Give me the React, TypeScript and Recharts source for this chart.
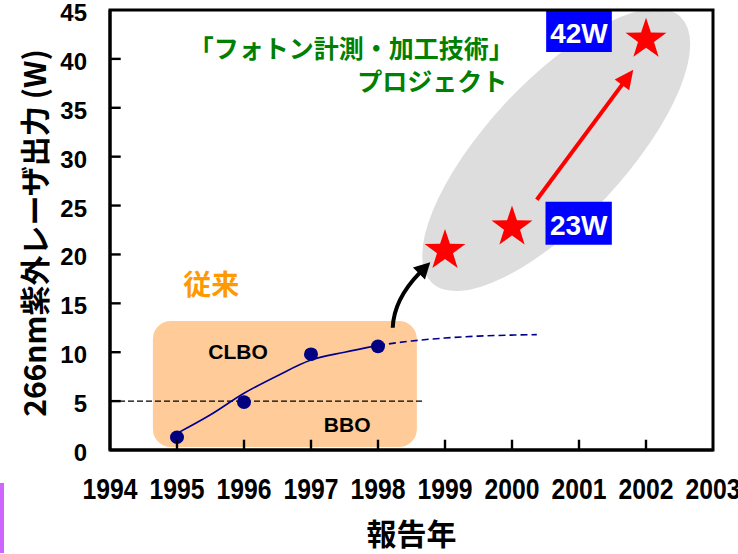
import React from 'react'
import {
  ComposedChart,
  Line,
  Scatter,
  XAxis,
  YAxis,
  ReferenceArea,
  ReferenceLine,
  ReferenceDot,
  Label,
} from 'recharts'

const yearTicks = [1994, 1995, 1996, 1997, 1998, 1999, 2000, 2001, 2002, 2003]
const powerTicks = [0, 5, 10, 15, 20, 25, 30, 35, 40, 45]

// 従来 (CLBO / BBO)
const clboYears = [1995, 1996, 1997, 1998]
const clboPower = [1.3, 4.9, 9.8, 10.6]

// フォトン計測・加工技術 プロジェクト
const photonYears = [1999, 2000, 2002]
const photonPower = [20.4, 22.8, 42.0]

// trend drawn through the conventional points, then extrapolated (dashed)
const trendYears = [1995, 1995.5, 1996, 1996.5, 1997, 1997.5, 1998]
const trendPower = [1.7, 3.6, 5.8, 7.6, 9.2, 10.0, 10.7]
const outlookYears = [1998, 1998.5, 1999, 1999.5, 2000, 2000.37]
const outlookPower = [10.7, 11.15, 11.45, 11.65, 11.75, 11.8]

const bboLimit = 5

const zip = (xs: number[], ys: number[]) => xs.map((year, i) => ({ year, power: ys[i] }))

const clboData = zip(clboYears, clboPower)
const photonData = zip(photonYears, photonPower)
const trendData = zip(trendYears, trendPower)
const outlookData = zip(outlookYears, outlookPower)

const LATIN = '"Liberation Sans", Arial, sans-serif'
const JP = '"Noto Sans CJK JP", "Noto Sans", sans-serif'

// inner tick marks (~10px), in axis units
const X_TICK_LEN = 1.05
const Y_TICK_LEN = 0.16

function YearTick(props: any) {
  const { x, y, payload } = props
  return (
    <text
      x={x}
      y={y + 49}
      textAnchor="middle"
      fill="#000"
      fontSize={30}
      fontWeight="bold"
      fontFamily={LATIN}
      textLength={55}
      lengthAdjust="spacingAndGlyphs"
    >
      {payload.value}
    </text>
  )
}

function PowerTick(props: any) {
  const { x, y, payload } = props
  return (
    <text x={x - 23} y={y + 11} textAnchor="end" fill="#000" fontSize={24} fontWeight="bold" fontFamily={LATIN}>
      {payload.value}
    </text>
  )
}

function TickMark(props: any) {
  const { x1, y1, x2, y2 } = props
  return <line x1={x1} y1={y1} x2={x2} y2={y2} stroke="#000" strokeWidth={2.4} />
}

function Star(props: any) {
  const { cx, cy } = props
  const pts: string[] = []
  for (let i = 0; i < 10; i++) {
    const r = i % 2 === 0 ? 21.5 : 8.4
    const a = ((-90 + i * 36) * Math.PI) / 180
    pts.push(`${cx + r * Math.cos(a)},${cy + r * Math.sin(a)}`)
  }
  return <polygon points={pts.join(' ')} fill="#ff0000" />
}

function Dot(props: any) {
  return <ellipse cx={props.cx} cy={props.cy} rx={7} ry={6.8} fill="#000080" />
}

function RedArrow(props: any) {
  const { x1, y1, x2, y2 } = props
  const len = Math.hypot(x2 - x1, y2 - y1)
  const ux = (x2 - x1) / len
  const uy = (y2 - y1) / len
  const head = 19
  const half = 9
  const bx = x2 - ux * head
  const by = y2 - uy * head
  return (
    <g>
      <line x1={x1} y1={y1} x2={bx + ux} y2={by + uy} stroke="#ff0000" strokeWidth={4} />
      <polygon
        points={`${x2},${y2} ${bx - uy * half},${by + ux * half} ${bx + uy * half},${by - ux * half}`}
        fill="#ff0000"
      />
    </g>
  )
}

function CurvedArrow(props: any) {
  const { x1, y1, x2, y2 } = props
  const ux = Math.SQRT1_2
  const uy = -Math.SQRT1_2
  const head = 16
  const half = 8.5
  const bx = x2 - ux * head
  const by = y2 - uy * head
  return (
    <g>
      <path
        d={`M${x1},${y1} Q${x1 + 1},${by + 26} ${bx + ux},${by + uy}`}
        fill="none"
        stroke="#000"
        strokeWidth={4}
      />
      <polygon
        points={`${x2},${y2} ${bx - uy * half},${by + ux * half} ${bx + uy * half},${by - ux * half}`}
        fill="#000"
      />
    </g>
  )
}

function Ellipse(props: any) {
  const { cx, cy } = props
  return (
    <ellipse cx={cx} cy={cy} rx={182} ry={69} transform={`rotate(-47 ${cx} ${cy})`} fill="#dddddd" />
  )
}

function RoundBox(props: any) {
  const { x, y, width, height } = props
  return <rect x={x} y={y} width={width} height={height} rx={18} ry={18} fill="#ffcc99" />
}

const note = (text: string, color: string, size: number, family: string, anchor = 'middle') =>
  function Note(props: any) {
    return (
      <text
        x={props.cx}
        y={props.cy}
        textAnchor={anchor}
        dominantBaseline="central"
        fill={color}
        fontSize={size}
        fontWeight="bold"
        fontFamily={family}
      >
        {text}
      </text>
    )
  }

export default function App() {
  return (
    <div style={{ position: 'absolute', left: 0, top: 0, width: 738, height: 554, background: '#fff' }}>
      <ComposedChart width={738} height={554} margin={{ top: 10, right: 25, bottom: 0, left: 0 }}>
        <XAxis
          type="number"
          dataKey="year"
          domain={[1994, 2003]}
          ticks={yearTicks}
          interval={0}
          height={104}
          tickSize={0}
          tickMargin={0}
          tickLine={false}
          axisLine={{ stroke: '#000', strokeWidth: 3 }}
          tick={<YearTick />}
        >
          <Label
            value="報告年"
            position="insideBottom"
            offset={9}
            fill="#000"
            fontSize={30}
            fontWeight="bold"
            fontFamily={JP}
          />
        </XAxis>
        <YAxis
          type="number"
          dataKey="power"
          domain={[0, 45]}
          ticks={powerTicks}
          interval={0}
          width={110}
          tickSize={0}
          tickMargin={0}
          tickLine={false}
          axisLine={{ stroke: '#000', strokeWidth: 3 }}
          tick={<PowerTick />}
        >
          <Label
            content={(p: any) => {
              const vb = p.viewBox || { x: 0, y: 10, height: 440 }
              const x = vb.x + 33
              const y = vb.y + vb.height / 2 + 3
              return (
                <text
                  x={x}
                  y={y}
                  transform={`rotate(-90 ${x} ${y})`}
                  textAnchor="middle"
                  dominantBaseline="central"
                  fill="#000"
                  fontSize={30}
                  fontWeight="bold"
                  fontFamily={JP}
                >
                  266nm紫外レーザ出力 (W)
                </text>
              )
            }}
          />
        </YAxis>

        <ReferenceDot zIndex={10} x={2000.66} y={30.7} r={1} shape={Ellipse} />
        <ReferenceArea zIndex={20} x1={1994.64} x2={1998.58} y1={0.3} y2={13.2} shape={RoundBox} />

        <ReferenceLine
          zIndex={30}
          segment={[
            { x: 1994, y: bboLimit },
            { x: 1998.67, y: bboLimit },
          ]}
          stroke="#000"
          strokeWidth={1.2}
          strokeDasharray="6 3"
        />

        <Line
          zIndex={400}
          data={trendData}
          dataKey="power"
          type="monotone"
          stroke="#000090"
          strokeWidth={1.6}
          dot={false}
          isAnimationActive={false}
        />
        <Line
          zIndex={400}
          data={outlookData}
          dataKey="power"
          type="monotone"
          stroke="#000090"
          strokeWidth={1.6}
          strokeDasharray="7 4"
          dot={false}
          isAnimationActive={false}
        />
        <Scatter zIndex={600} data={clboData} dataKey="power" shape={Dot} isAnimationActive={false} />

        <ReferenceLine
          zIndex={650}
          segment={[
            { x: 1998.22, y: 12.5 },
            { x: 1998.78, y: 19.2 },
          ]}
          shape={CurvedArrow}
        />
        <ReferenceLine
          zIndex={650}
          segment={[
            { x: 2000.37, y: 25.6 },
            { x: 2001.81, y: 38.9 },
          ]}
          shape={RedArrow}
        />

        <Scatter zIndex={700} data={photonData} dataKey="power" shape={Star} isAnimationActive={false} />

        <ReferenceArea
          zIndex={800}
          x1={2000.51}
          x2={2001.49}
          y1={40.7}
          y2={45}
          fill="#0000ff"
          fillOpacity={1}
          label={{ value: '42W', position: 'center', fill: '#fff', fontSize: 28, fontWeight: 'bold', fontFamily: LATIN, dy: 2 }}
        />
        <ReferenceArea
          zIndex={800}
          x1={2000.5}
          x2={2001.49}
          y1={21.0}
          y2={25.4}
          fill="#0000ff"
          fillOpacity={1}
          label={{ value: '23W', position: 'center', fill: '#fff', fontSize: 28, fontWeight: 'bold', fontFamily: LATIN, dy: 2 }}
        />

        <ReferenceDot zIndex={900} x={1997.6} y={41.2} r={1} shape={note('「フォトン計測・加工技術」', '#008000', 25, JP)} />
        <ReferenceDot zIndex={900} x={1999.93} y={37.8} r={1} shape={note('プロジェクト', '#008000', 25, JP, 'end')} />
        <ReferenceDot zIndex={900} x={1995.51} y={17.1} r={1} shape={note('従来', '#ff9900', 28, JP)} />
        <ReferenceDot zIndex={900} x={1995.91} y={10.05} r={1} shape={note('CLBO', '#000', 21, LATIN)} />
        <ReferenceDot zIndex={900} x={1997.54} y={2.6} r={1} shape={note('BBO', '#000', 21, LATIN)} />

        {yearTicks.slice(1, -1).map((year) => (
          <ReferenceLine
            key={`xt-${year}`}
            zIndex={1000}
            segment={[
              { x: year, y: 0 },
              { x: year, y: X_TICK_LEN },
            ]}
            shape={TickMark}
          />
        ))}
        {powerTicks.slice(1, -1).map((p) => (
          <ReferenceLine
            key={`yt-${p}`}
            zIndex={1000}
            segment={[
              { x: 1994, y: p },
              { x: 1994 + Y_TICK_LEN, y: p },
            ]}
            shape={TickMark}
          />
        ))}

        <ReferenceArea zIndex={1000} x1={1994} x2={2003} y1={0} y2={45} fill="none" stroke="#000" strokeWidth={3} />
      </ComposedChart>
      <div style={{ position: 'absolute', left: 0, top: 483, width: 4, height: 70, background: '#cc66ff' }} />
    </div>
  )
}
